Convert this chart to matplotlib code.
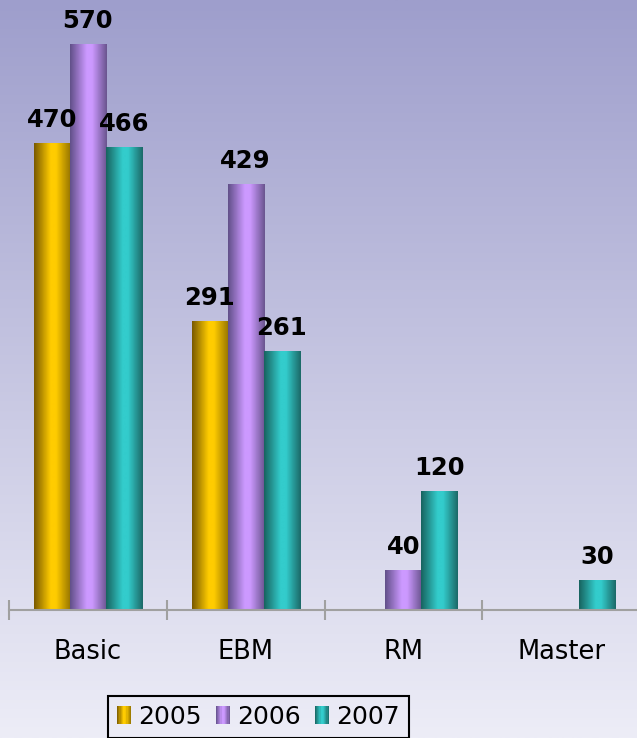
import numpy as np
import matplotlib.pyplot as plt
from matplotlib.colors import LinearSegmentedColormap
from matplotlib.legend_handler import HandlerBase
from matplotlib.patches import Rectangle

# data
categories = ['Basic', 'EBM', 'RM', 'Master']
years = ['2005', '2006', '2007']
v2005 = [470, 291, 0, 0]
v2006 = [570, 429, 40, 0]
v2007 = [466, 261, 120, 30]
series = [v2005, v2006, v2007]

# dark edge, bright middle, dark edge
shades = [
    ['#7a5a00', '#ffcc00', '#ffcc00', '#957400'],
    ['#62508a', '#cc99ff', '#cc99ff', '#6b5590'],
    ['#186460', '#33cccc', '#33cccc', '#1c6a68'],
]
stops = [0.0, 0.45, 0.6, 1.0]


def grad_cmap(cols):
    return LinearSegmentedColormap.from_list('g', list(zip(stops, cols)))


class GradHandler(HandlerBase):
    def __init__(self, cols):
        super().__init__()
        self.cmap = grad_cmap(cols)

    def create_artists(self, legend, orig_handle, xdescent, ydescent,
                       width, height, fontsize, trans):
        n = 12
        out = []
        for i in range(n):
            r = Rectangle((-xdescent + width * i / n, -ydescent), width / n + 0.3, height,
                          facecolor=self.cmap((i + 0.5) / n), edgecolor='none',
                          transform=trans)
            out.append(r)
        return out


fig = plt.figure(figsize=(6.37, 7.38), dpi=100)

# background gradient
bg = fig.add_axes([0, 0, 1, 1], zorder=-10)
top = np.array([158, 158, 204]) / 255.
bot = np.array([237, 237, 247]) / 255.
t = np.linspace(0, 1, 256)[:, None]
grad = (top[None, :] * (1 - t) + bot[None, :] * t)[:, None, :]
bg.imshow(grad, aspect='auto', extent=[0, 1, 0, 1])
bg.axis('off')

ax = fig.add_axes([9 / 637, 128 / 738, 631 / 637, 610 / 738])
ax.set_facecolor('none')

w = 0.2286
x = np.arange(len(categories))
handles = []
for k, vals in enumerate(series):
    bars = ax.bar(x + (k - 1) * w, vals, w, color='none', edgecolor='none', label=years[k])
    handles.append(bars)
    cm = grad_cmap(shades[k])
    strip = np.linspace(0, 1, 64)[None, :]
    for b, v in zip(bars, vals):
        if v == 0:
            continue
        x0 = b.get_x()
        im = ax.imshow(strip, cmap=cm, aspect='auto', interpolation='bilinear',
                       extent=[x0, x0 + b.get_width(), 0, v], zorder=2)
        im.set_clip_path(b)
        ax.annotate(str(v), (b.get_x() + b.get_width() / 2, v), xytext=(0, 11.5),
                    textcoords='offset points', ha='center', va='baseline',
                    fontsize=17.5, fontweight='bold', color='black', zorder=5)

ax.set_xlim(-0.5, 3.5)
ax.set_ylim(0, 614)
for s in ['top', 'left', 'right']:
    ax.spines[s].set_visible(False)
ax.spines['bottom'].set_color('#a0a0a0')
ax.spines['bottom'].set_linewidth(1.5)
ax.spines['bottom'].set_zorder(3)
ax.set_yticks([])
ax.set_xticks(np.arange(-0.5, 4.0, 1.0))
ax.set_xticklabels([])
ax.set_xticks(x, minor=True)
ax.set_xticklabels(categories, minor=True, fontsize=18.5)
ax.tick_params(axis='x', which='major', direction='inout', length=14.4, width=1.5,
               color='#a0a0a0')
ax.tick_params(axis='x', which='minor', length=0, pad=21)

leg = fig.legend(handles, years, loc='upper center', ncol=3,
                 bbox_to_anchor=(258.5 / 637, 1 - 696 / 738),
                 handler_map={handles[i]: GradHandler(shades[i]) for i in range(3)},
                 fontsize=18, frameon=True, fancybox=False, framealpha=1,
                 handlelength=0.56, handleheight=0.72, handletextpad=0.3,
                 columnspacing=0.55, borderpad=0.35, borderaxespad=0)
leg.get_frame().set_facecolor('none')
leg.get_frame().set_edgecolor('black')
leg.get_frame().set_linewidth(1.5)

fig.savefig('out.png', dpi=100)
